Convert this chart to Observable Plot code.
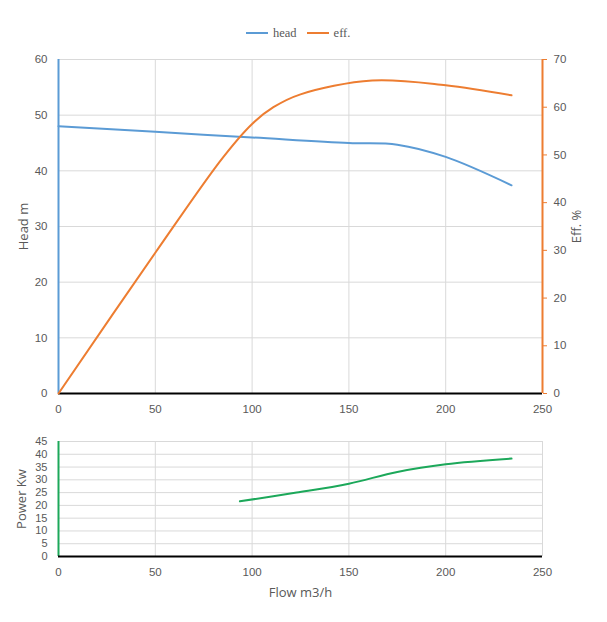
<!DOCTYPE html>
<html><head><meta charset="utf-8">
<script src="https://cdn.jsdelivr.net/npm/d3@7"></script>
<script src="https://cdn.jsdelivr.net/npm/@observablehq/plot@0.6"></script>
<style>
body{margin:0;background:#fff;}
#wrap{position:relative;width:607px;height:622px;background:#fff;font-family:"Open Sans",sans-serif;}
#wrap svg{position:absolute;left:0;}
#legend{position:absolute;top:25px;left:246px;height:16px;display:flex;align-items:center;font-family:"Liberation Serif",serif;font-size:12.5px;color:#595959;white-space:nowrap;}
#legend span.sw{display:inline-block;width:22px;height:0;border-top:2px solid;margin-right:5px;}
#legend span.it{margin-right:10px;}
</style></head>
<body><div id="wrap"><div id="legend"></div></div>
<script>
const flowHead = [0, 50, 100, 150, 175, 200, 234];
const head = [48, 47, 46, 45, 44.7, 42.5, 37.4];
const flowEff = [0, 50, 85, 100, 111, 125, 162, 200, 234];
const eff = [0, 29.5, 49.5, 56.5, 60.0, 62.7, 65.6, 64.6, 62.5];
const flowPower = [93.7, 123, 150, 175, 200, 234];
const power = [21.6, 25.0, 28.5, 33.1, 36.1, 38.3];
const xTicks = [0, 50, 100, 150, 200, 250];
const headTicks = [0, 10, 20, 30, 40, 50, 60];
const effTicks = [0, 10, 20, 30, 40, 50, 60, 70];
const powerTicks = [0, 5, 10, 15, 20, 25, 30, 35, 40, 45];
const seriesNames = ["head", "eff."];

const BLUE = "#5b9bd5", ORANGE = "#ed7d31", GREEN = "#1ca85a", GRID = "#d9d9d9", TXT = "#595959";
const headData = flowHead.map((f, i) => ({flow: f, v: head[i]}));
const effData = flowEff.map((f, i) => ({flow: f, v: eff[i]}));
const powerData = flowPower.map((f, i) => ({flow: f, v: power[i]}));
const baseStyle = {fontFamily: "Liberation Sans, sans-serif", fontSize: "11.5px", color: TXT, background: "transparent"};
const titleFont = "Open Sans, sans-serif";

const wrap = document.getElementById("wrap");
const lg = document.getElementById("legend");
lg.innerHTML = `<span class="sw" style="border-color:${BLUE}"></span><span class="it">${seriesNames[0]}</span><span class="sw" style="border-color:${ORANGE}"></span><span>${seriesNames[1]}</span>`;

function fixTitles(svg) {
  svg.querySelectorAll('g[aria-label="y-axis label"], g[aria-label="x-axis label"]').forEach(g => {
    g.setAttribute("font-family", titleFont);
    g.setAttribute("font-size", "13");
  });
}

const top1 = Plot.plot({
  width: 607, height: 420, marginLeft: 58, marginRight: 65, marginTop: 59, marginBottom: 27,
  style: baseStyle,
  x: {domain: [0, 250]}, y: {domain: [0, 60]},
  marks: [
    Plot.gridX(xTicks.slice(1), {stroke: GRID, strokeOpacity: 1}),
    Plot.gridY(headTicks.slice(1), {stroke: GRID, strokeOpacity: 1}),
    Plot.axisY(headTicks, {tickSize: 0, tickPadding: 11, label: "Head m", labelAnchor: "center", labelArrow: "none", labelOffset: 40}),
    Plot.axisX(xTicks, {tickSize: 0, tickPadding: 11, label: null}),
    Plot.ruleX([0], {stroke: BLUE, strokeWidth: 2}),
    Plot.ruleY([0], {stroke: "#000", strokeWidth: 2}),
    Plot.line(headData, {x: "flow", y: "v", stroke: BLUE, strokeWidth: 2, curve: "catmull-rom"})
  ]
});
top1.style.top = "0px";
fixTitles(top1);
wrap.appendChild(top1);

const top2 = Plot.plot({
  width: 607, height: 420, marginLeft: 58, marginRight: 65, marginTop: 59, marginBottom: 27,
  style: baseStyle,
  x: {domain: [0, 250], axis: null}, y: {domain: [0, 70], axis: null},
  marks: [
    Plot.axisY(effTicks, {anchor: "right", tickSize: 4, tickPadding: 7, stroke: ORANGE, label: "Eff. %", labelAnchor: "center", labelArrow: "none", labelOffset: 38}),
    Plot.ruleX([250], {stroke: ORANGE, strokeWidth: 2}),
    Plot.line(effData, {x: "flow", y: "v", stroke: ORANGE, strokeWidth: 2, curve: "catmull-rom"})
  ]
});
top2.style.top = "0px";
fixTitles(top2);
wrap.appendChild(top2);

const bot = Plot.plot({
  width: 607, height: 202, marginLeft: 58, marginRight: 65, marginTop: 21, marginBottom: 66,
  style: {...baseStyle, fontSize: "11px"},
  x: {domain: [0, 250]}, y: {domain: [0, 45]},
  marks: [
    Plot.gridX(xTicks.slice(1), {stroke: GRID, strokeOpacity: 1}),
    Plot.gridY(powerTicks.slice(1), {stroke: GRID, strokeOpacity: 1}),
    Plot.axisY(powerTicks, {tickSize: 0, tickPadding: 11, label: "Power Kw", labelAnchor: "center", labelArrow: "none", labelOffset: 42}),
    Plot.axisX(xTicks, {tickSize: 0, tickPadding: 11, fontSize: 11.5, label: "Flow m3/h", labelAnchor: "center", labelArrow: "none", labelOffset: 40}),
    Plot.ruleX([0], {stroke: GREEN, strokeWidth: 2}),
    Plot.ruleY([0], {stroke: "#000", strokeWidth: 2}),
    Plot.line(powerData, {x: "flow", y: "v", stroke: GREEN, strokeWidth: 2, curve: "catmull-rom"})
  ]
});
bot.style.top = "420px";
fixTitles(bot);
wrap.appendChild(bot);
</script></body></html>
